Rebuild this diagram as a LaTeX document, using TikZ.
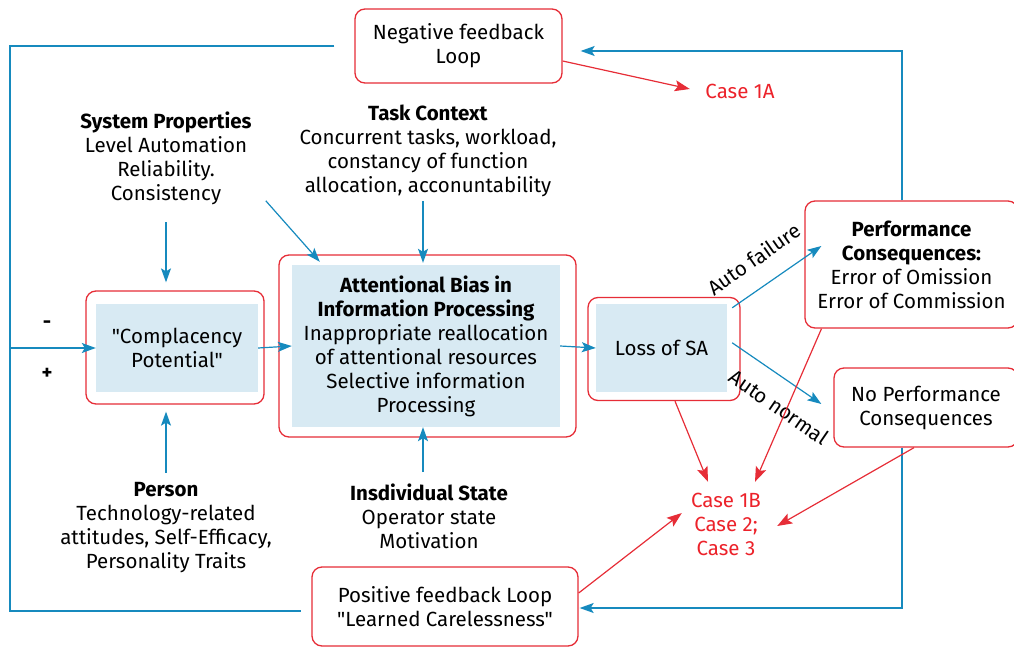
\documentclass[tikz,border=0pt]{standalone}
\usepackage{fontspec}
\setmainfont{Fira Sans}[Ligatures=TeXOff]
\usetikzlibrary{arrows.meta}
\definecolor{boxred}{RGB}{230,45,55}
\definecolor{casered}{RGB}{236,34,42}
\definecolor{flowblue}{RGB}{22,138,190}
\definecolor{panel}{RGB}{216,234,243}

\begin{document}
\begin{tikzpicture}[x=1pt,y=-1pt,
  every node/.style={font=\fontsize{20.5}{24}\selectfont, align=center, inner sep=0pt},
  redbox/.style={draw=boxred, line width=1.3pt, rounded corners=10pt, fill=white},
  panelbox/.style={fill=panel},
  bl/.style={draw=flowblue, line width=1.2pt},
  bla/.style={bl, -{Stealth[length=14pt,width=10pt,inset=3pt]}},
  rda/.style={draw=boxred, line width=1.2pt, -{Stealth[length=15pt,width=11pt,inset=3pt]}},
  casetxt/.style={text=casered},
]
\useasboundingbox (0,0) rectangle (1014,647);

% feedback loop boxes
\node[redbox, minimum width=207pt, minimum height=74pt] (neg) at (458.5,46) {Negative feedback\\Loop};
\node[redbox, minimum width=266pt, minimum height=79pt] (pos) at (445,606.5) {Positive feedback Loop\\"Learned Carelessness"};

% main chain
\node[redbox, minimum width=178pt, minimum height=113pt] (compout) at (175,347.5) {};
\node[panelbox, minimum width=162pt, minimum height=88pt] (compin) at (177,348) {"Complacency\\Potential"};

\node[redbox, minimum width=297pt, minimum height=182pt] (attout) at (427.5,346) {};
\node[panelbox, minimum width=268pt, minimum height=162pt] (attin) at (426,346)
  {\textbf{Attentional Bias in}\\\textbf{Information Processing}\\Inappropriate reallocation\\of attentional resources\\Selective information\\Processing};

\node[redbox, minimum width=152pt, minimum height=103pt] (lossout) at (664,349) {};
\node[panelbox, minimum width=131pt, minimum height=88pt] (lossin) at (661.5,348) {Loss of SA};

% outcomes
\node[redbox, minimum width=213pt, minimum height=127pt] (perf) at (911.5,264.5)
  {\textbf{Performance}\\\textbf{Consequences:}\\Error of Omission\\Error of Commission};
\node[redbox, minimum width=184pt, minimum height=79pt] (noperf) at (926,407.5) {No Performance\\Consequences};

% influencing factors
\node (sysprop) at (166,158) {\textbf{System Properties}\\Level Automation\\Reliability.\\Consistency};
\node (task) at (428,151) {\textbf{Task Context}\\Concurrent tasks, workload,\\constancy of function\\allocation, acconuntability};
\node (person) at (166,528) {\textbf{Person}\\Technology-related\\attitudes, Self-Efficacy,\\Personality Traits};
\node (indiv) at (429,516) {\textbf{Insdividual State}\\Operator state\\Motivation};

% cases
\node[casetxt, minimum width=90pt, minimum height=24pt] (case1a) at (740,91) {Case 1A};
\node[casetxt, minimum width=100pt, minimum height=84pt] (cases) at (726,524) {Case 1B\\Case 2;\\Case 3};

% signs on the feedback input
\node (minus) at (47,325) {\textbf{-}};
\node (plus) at (47,374) {\textbf{+}};

% feedback loops
\coordinate (lt) at (10,46);
\coordinate (lb) at (10,611);
\coordinate (lm) at (10,348);
\draw[bl] ([xshift=-20pt]neg.west) -- (lt) -- (lb) -- ([xshift=-10pt,yshift=-4.5pt]pos.west);
\draw[bla] (lm) -- (compin.west);
\draw[bla] ([xshift=-9.5pt]perf.north) |- ([xshift=18pt,yshift=-5pt]neg.east);
\draw[bla] ([xshift=-24pt]noperf.south) |- ([xshift=1pt,yshift=-1.5pt]pos.east);

% main flow
\draw[bla] (compin.east) -- (attin.west);
\draw[bla] (attin.east) -- (lossin.west);

% factor inputs
\draw[bla] ([xshift=-9pt,yshift=68pt]compout.north) -- ([xshift=-9pt,yshift=8pt]compout.north);
\draw[bla] ([xshift=-9pt,yshift=-68pt]compout.south) -- ([xshift=-9pt,yshift=-7pt]compout.south);
\draw[bla] ([xshift=-3pt,yshift=64pt]attin.north) -- ([xshift=-3pt,yshift=2pt]attin.north);
\draw[bla] ([xshift=-3pt,yshift=-45pt]attin.south) -- ([xshift=-3pt]attin.south);
\draw[bla] ([xshift=-26pt,yshift=64pt]attin.north west) -- ([xshift=28pt,yshift=3pt]attin.north west);

% outcomes of loss of SA
\draw[bla] ([xshift=5pt,yshift=-4pt]lossin.north east) -- ([xshift=17pt,yshift=18.5pt]perf.west);
\draw[bla] ([xshift=5pt,yshift=-39pt]lossin.north east) -- ([xshift=-12pt,yshift=3.5pt]noperf.west);
\node[rotate=35] (lblfail) at (754,259) {Auto failure};
\node[rotate=-34.5] (lblnorm) at (779,407) {Auto normal};

% routes to the cases
\draw[rda] ([yshift=-15pt]neg.east) -- ([xshift=-5pt,yshift=2pt]case1a.west);
\draw[rda] ([xshift=11pt]lossout.south) -- ([xshift=-18pt]cases.north);
\draw[rda] ([xshift=-90pt]perf.south) -- ([xshift=29pt]cases.north);
\draw[rda] ([xshift=-12pt]noperf.south) -- ([xshift=1pt,yshift=-2pt]cases.east);
\draw[rda] ([yshift=13.5pt]pos.east) -- ([xshift=6pt,yshift=11pt]cases.west);
\end{tikzpicture}
\end{document}
